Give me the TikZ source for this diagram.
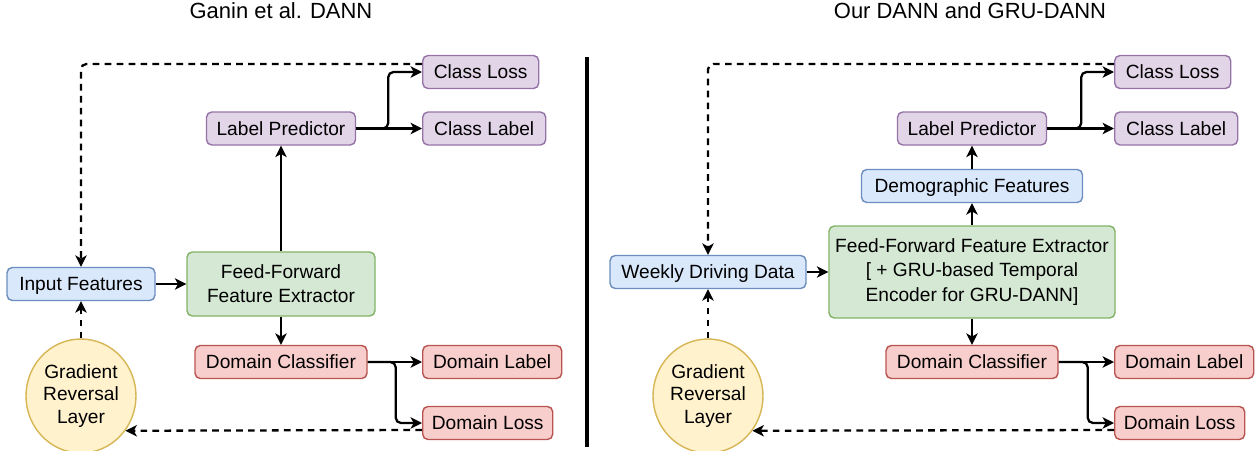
\documentclass[tikz,border=0pt]{standalone}
\usepackage{fontspec}
\setmainfont{Liberation Sans}
\usetikzlibrary{shapes.geometric, arrows.meta}

\definecolor{purplefill}{HTML}{E1D5E7}
\definecolor{purpleline}{HTML}{9673A6}
\definecolor{bluefill}{HTML}{DAE8FC}
\definecolor{blueline}{HTML}{6C8EBF}
\definecolor{greenfill}{HTML}{D5E8D4}
\definecolor{greenline}{HTML}{82B366}
\definecolor{redfill}{HTML}{F8CECC}
\definecolor{redline}{HTML}{B85450}
\definecolor{yellowfill}{HTML}{FFF2CC}
\definecolor{yellowline}{HTML}{D6B656}

\begin{document}
\begin{tikzpicture}[x=0.02cm, y=-0.02cm,
    every node/.style={font=\fontsize{10.9}{13.8}\selectfont, align=center},
    box/.style={rectangle, rounded corners=3pt, draw, line width=0.8pt, minimum height=33*0.02cm, inner sep=0pt},
    oneline/.style={text height=7.8pt, text depth=0pt},
    bw/.style={minimum width=#1*0.02cm},
    purplebox/.style={box, oneline, draw=purpleline, fill=purplefill},
    bluebox/.style={box, oneline, draw=blueline, fill=bluefill},
    redbox/.style={box, oneline, draw=redline, fill=redfill},
    greenbox/.style={box, draw=greenline, fill=greenfill},
    grlnode/.style={ellipse, draw=yellowline, fill=yellowfill, line width=0.8pt, inner sep=0pt,
        minimum width=110*0.02cm, minimum height=114*0.02cm, font=\fontsize{10.9}{12.8}\selectfont},
    fwd/.style={-{Stealth[length=6.5pt,width=6.5pt,inset=1.8pt]}, line width=1.3pt},
    back/.style={fwd, dash pattern=on 3.8pt off 3pt},
    title/.style={font=\fontsize{12.5}{15}\selectfont, anchor=base}]
\useasboundingbox (0,0) rectangle (1258,450);

% titles and divider
\node[title] (t1) at (281,18.5) {Ganin et al. DANN};
\node[title] (t2) at (970,18.5) {Our DANN and GRU-DANN};
\draw[line width=2pt] (587,57) -- (587,447);

% left: original DANN
\node[bluebox, bw=148] (inp) at (81,284) {Input Features};
\node[greenbox, bw=188, minimum height=64*0.02cm] (ffe) at (281,284) {Feed-Forward\\Feature Extractor};
\node[purplebox, bw=149] (lp) at (281,128.5) {Label Predictor};
\node[redbox, bw=172] (dc) at (281,362) {Domain Classifier};
\node[purplebox, bw=116, anchor=west] (closs) at (422,72) {Class Loss};
\node[purplebox, bw=123, anchor=west] (clab) at (422,128.5) {Class Label};
\node[redbox, bw=139, anchor=west] (dlab) at (422,362) {Domain Label};
\node[redbox, bw=130, anchor=west] (dloss) at (422,423) {Domain Loss};
\node[grlnode] (grl) at (81,396) {Gradient\\Reversal\\Layer};

\draw[fwd] (inp) -- (ffe);
\draw[fwd] (ffe) -- (lp);
\draw[fwd] (ffe) -- (dc);
\draw[fwd] (lp) -- (clab);
\draw[fwd, rounded corners=3pt] (lp.east) -- ++(32,0) |- (closs);
\draw[fwd] (dc) -- (dlab);
\draw[fwd, rounded corners=3pt] (dc.east) -- ++(28,0) |- (dloss);
\draw[back, rounded corners=3pt] ([yshift=0.16cm]closs.west) -| (inp);
\draw[back] (grl) -- (inp);
\draw[back] ([yshift=-0.14cm]dloss.west) -- (grl.-38);

% right: our DANN / GRU-DANN
\node[bluebox, bw=196] (wdd) at (708,272) {Weekly Driving Data};
\node[greenbox, bw=286, minimum height=92*0.02cm] (ffe2) at (972,272) {Feed-Forward Feature Extractor\\{}[ + GRU-based Temporal\\Encoder for GRU-DANN]};
\node[bluebox, bw=221] (demo) at (972,186) {Demographic Features};
\node[purplebox, bw=149] (lp2) at (972,128.5) {Label Predictor};
\node[redbox, bw=172] (dc2) at (972,362) {Domain Classifier};
\node[purplebox, bw=116, anchor=west] (closs2) at (1114,72) {Class Loss};
\node[purplebox, bw=123, anchor=west] (clab2) at (1114,128.5) {Class Label};
\node[redbox, bw=139, anchor=west] (dlab2) at (1114,362) {Domain Label};
\node[redbox, bw=130, anchor=west] (dloss2) at (1114,423) {Domain Loss};
\node[grlnode] (grl2) at (708,396) {Gradient\\Reversal\\Layer};

\draw[fwd] (wdd) -- (ffe2);
\draw[fwd] (ffe2) -- (demo);
\draw[fwd] (demo) -- (lp2);
\draw[fwd] (ffe2) -- (dc2);
\draw[fwd] (lp2) -- (clab2);
\draw[fwd, rounded corners=3pt] (lp2.east) -- ++(34,0) |- (closs2);
\draw[fwd] (dc2) -- (dlab2);
\draw[fwd, rounded corners=3pt] (dc2.east) -- ++(29,0) |- (dloss2);
\draw[back, rounded corners=3pt] ([yshift=0.16cm]closs2.west) -| (wdd);
\draw[back] (grl2) -- (wdd);
\draw[back] ([yshift=-0.14cm]dloss2.west) -- (grl2.-38);
\end{tikzpicture}
\end{document}
